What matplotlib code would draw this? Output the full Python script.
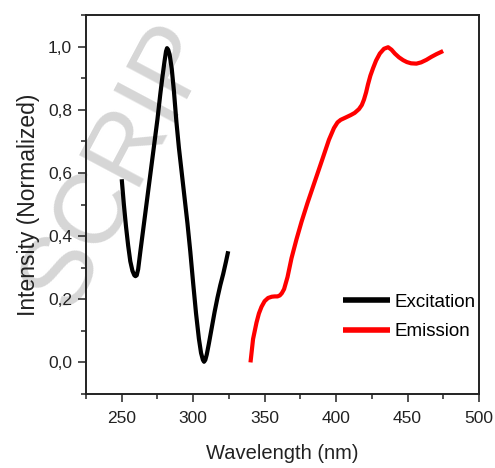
import numpy as np
import matplotlib
matplotlib.use("Agg")
import matplotlib.pyplot as plt
from matplotlib.ticker import MultipleLocator, FuncFormatter

plt.rcParams["font.family"] = ["Liberation Sans", "DejaVu Sans"]

# excitation spectrum
exc_wl = [250, 251.5, 253, 254.5, 256, 257.5, 258.8, 259.6, 260.5, 261.5, 263, 265,
          267, 269, 271, 273, 275, 277, 278.5, 280, 281, 281.7, 282.5, 283.5, 285,
          286.5, 288.3, 290, 292, 294, 296, 298, 300, 302, 304, 305.5, 306.8, 307.6,
          308.5, 309.5, 311, 313, 315, 317, 319, 321, 323, 324.5]
exc_int = [0.58, 0.50, 0.43, 0.37, 0.32, 0.29, 0.276, 0.273, 0.276, 0.295, 0.35,
           0.42, 0.49, 0.56, 0.63, 0.70, 0.77, 0.85, 0.905, 0.955, 0.985, 0.995,
           0.99, 0.975, 0.93, 0.86, 0.76, 0.68, 0.60, 0.52, 0.44, 0.35, 0.25, 0.155,
           0.075, 0.03, 0.008, 0.002, 0.008, 0.025, 0.06, 0.11, 0.16, 0.205, 0.245,
           0.28, 0.32, 0.352]

# emission spectrum
em_wl = [340.1, 341.9, 344.3, 346, 347.8, 350, 352.4, 355, 357.1, 359, 360.6, 362,
         363.6, 366, 368.8, 372.3, 375.8, 380, 384.5, 390.3, 395, 398.5, 401, 403.2,
         406.5, 410.2, 413, 416, 418, 419.5, 421, 422.3, 424, 425.9, 428, 430.6,
         433.5, 436.4, 438.8, 441.1, 444, 446.9, 449.5, 452.5, 456.2, 459.5, 463.2,
         466.5, 470.2, 474.9]
em_int = [0.0, 0.074, 0.126, 0.155, 0.176, 0.194, 0.204, 0.208, 0.209, 0.209, 0.212,
          0.219, 0.232, 0.27, 0.33, 0.39, 0.445, 0.505, 0.565, 0.642, 0.705, 0.742,
          0.76, 0.768, 0.775, 0.783, 0.79, 0.802, 0.815, 0.832, 0.855, 0.88, 0.908,
          0.932, 0.956, 0.978, 0.993, 0.998, 0.99, 0.978, 0.966, 0.957, 0.951,
          0.947, 0.946, 0.95, 0.958, 0.967, 0.976, 0.986]

fig = plt.figure(figsize=(4.95, 4.68), dpi=100)
ax = fig.add_axes([86 / 495, 1 - 394 / 468, (479 - 86) / 495, (394 - 15) / 468])
ax.set_zorder(1)
ax.patch.set_visible(False)

# watermark (only the part that shows)
fig.text(118 / 495, 1 - 165 / 468, "SCRIP", fontsize=72, color="#d6d6d6",
         rotation=62, rotation_mode="anchor", ha="center", va="center", zorder=0)

ax.plot(exc_wl, exc_int, color="black", lw=3, label="Excitation",
        solid_capstyle="butt", solid_joinstyle="round")
ax.plot(em_wl, em_int, color="red", lw=3, label="Emission",
        solid_capstyle="butt", solid_joinstyle="round")

ax.set_xlim(225, 500)
ax.set_ylim(-0.1, 1.1)
ax.xaxis.set_major_locator(MultipleLocator(50))
ax.xaxis.set_minor_locator(MultipleLocator(25))
ax.yaxis.set_minor_locator(MultipleLocator(0.1))
ax.set_yticks([0, 0.2, 0.4, 0.6, 0.8, 1.0])
ax.yaxis.set_major_formatter(FuncFormatter(lambda v, p: f"{v:.1f}".replace(".", ",")))

ax.tick_params(which="both", direction="out", width=1.1, labelsize=12.5,
               colors="#222222", top=False, right=False)
ax.tick_params(which="major", length=6)
ax.tick_params(axis="x", which="major", pad=6)
ax.tick_params(axis="y", which="major", pad=4)
ax.tick_params(which="minor", length=3.5)
for s in ax.spines.values():
    s.set_linewidth(1.4)
    s.set_color("#222222")

ax.set_xlabel("Wavelength (nm)", fontsize=14.5, labelpad=13, color="#222222")
ax.set_ylabel("Intensity (Normalized)", fontsize=16.5, labelpad=6, color="#222222")

leg = ax.legend(loc="center left", bbox_to_anchor=((343 - 86) / 393, 1 - (317 - 15) / 379),
                frameon=False, fontsize=13.5, handlelength=2.5, handletextpad=0.25,
                borderpad=0, borderaxespad=0, labelspacing=0.65)
for h in leg.get_lines():
    h.set_linewidth(4)

fig.savefig("out.png", dpi=100)
